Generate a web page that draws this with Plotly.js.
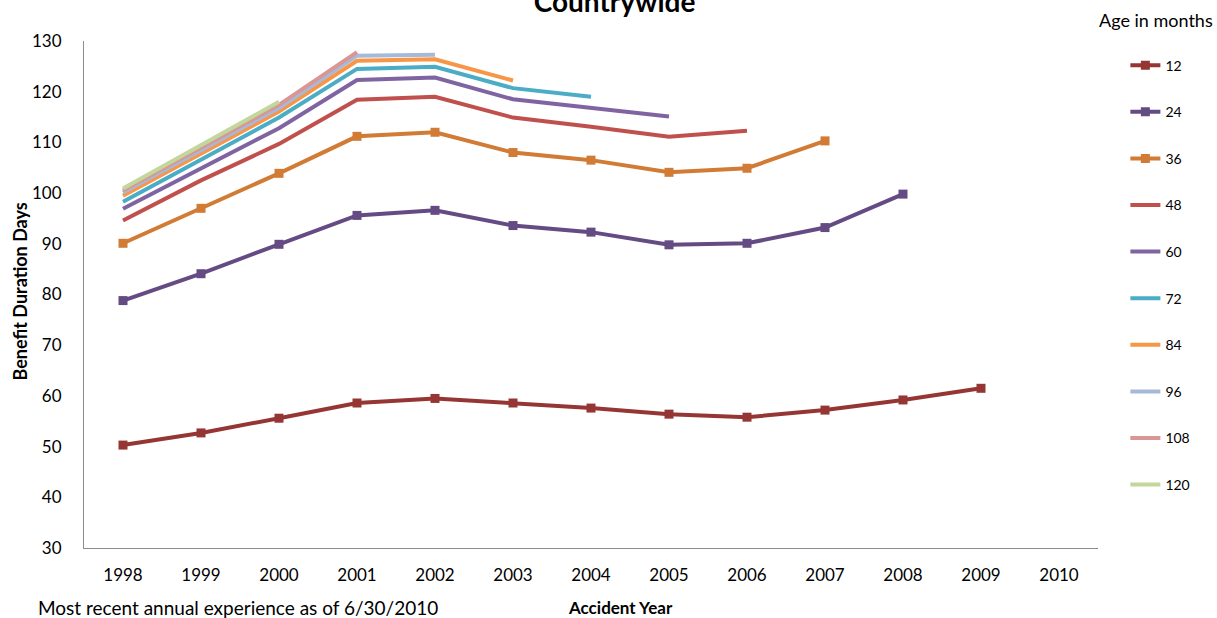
<!DOCTYPE html>
<html>
<head>
<meta charset="utf-8">
<script src="https://cdn.plot.ly/plotly-3.0.1.min.js"></script>
<style>
  html, body { margin: 0; padding: 0; background: #ffffff; }
  #chart { width: 1217px; height: 618px; }
</style>
</head>
<body>
<div id="chart"></div>
<script>
// Accident years shown on the x axis
const years = [1998, 1999, 2000, 2001, 2002, 2003, 2004, 2005, 2006, 2007, 2008, 2009, 2010];

// Average benefit duration (days) by accident year, one series per evaluation age
const age12  = [50.3, 52.7, 55.6, 58.6, 59.5, 58.6, 57.6, 56.4, 55.8, 57.2, 59.2, 61.5];
const age24  = [78.8, 84.1, 89.9, 95.6, 96.6, 93.6, 92.3, 89.8, 90.1, 93.2, 99.8];
const age36  = [90.1, 97.0, 103.9, 111.2, 112.0, 108.0, 106.5, 104.1, 104.9, 110.3];
const age48  = [94.6, 102.5, 109.7, 118.4, 119.0, 114.9, 113.1, 111.1, 112.3];
const age60  = [96.9, 104.8, 112.8, 122.3, 122.8, 118.5, 116.9, 115.1];
const age72  = [98.3, 106.6, 114.9, 124.5, 124.9, 120.7, 119.0];
const age84  = [99.5, 107.8, 116.1, 126.1, 126.4, 122.2];
const age96  = [100.1, 108.4, 116.8, 127.1, 127.3];
const age108 = [100.5, 108.9, 117.4, 127.8];
const age120 = [100.9, 109.5, 118.0];

const ageLabels = ['12', '24', '36', '48', '60', '72', '84', '96', '108', '120'];
const seriesValues = [age12, age24, age36, age48, age60, age72, age84, age96, age108, age120];
const seriesColors = ['#963634', '#654B83', '#D17B35', '#C0504D', '#8064A2',
                      '#4BACC6', '#F79646', '#A7B9D8', '#D99694', '#C3D69B'];
const withMarkers = [true, true, true, false, false, false, false, false, false, false];

const FONT = 'Lato, "Open Sans", "Liberation Sans", sans-serif';

const traces = seriesValues.map((vals, i) => ({
  type: 'scatter',
  mode: withMarkers[i] ? 'lines+markers' : 'lines',
  name: ageLabels[i],
  legendgroup: 'g' + ageLabels[i],
  x: years.slice(0, vals.length),
  y: vals,
  line: { color: seriesColors[i], width: 4 },
  marker: { symbol: 'square', size: 9, color: seriesColors[i] },
  hoverinfo: 'x+y+name'
}));

const layout = {
  width: 1217,
  height: 618,
  paper_bgcolor: '#ffffff',
  plot_bgcolor: '#ffffff',
  margin: { l: 84, r: 119, t: 41, b: 70, pad: 0 },
  font: { family: FONT, size: 16, color: '#000000' },
  title: {
    text: '<b>Countrywide</b>',
    font: { family: FONT, size: 28, color: '#000000' },
    xref: 'container', yref: 'container',
    x: 0.505, y: 0.997, xanchor: 'center', yanchor: 'middle'
  },
  xaxis: {
    range: [1997.5, 2010.5],
    tickmode: 'array',
    tickvals: years,
    ticktext: years.map(String),
    showgrid: false,
    zeroline: false,
    showline: true,
    linecolor: '#8c8c8c',
    linewidth: 1,
    ticks: '',
    ticklen: 0,
    tickfont: { family: FONT, size: 17 },
    ticklabelstandoff: 12,
    fixedrange: true
  },
  yaxis: {
    range: [30, 130],
    dtick: 10,
    tick0: 30,
    showgrid: false,
    zeroline: false,
    showline: true,
    linecolor: '#8c8c8c',
    linewidth: 1,
    ticks: '',
    tickfont: { family: FONT, size: 17 },
    ticklabelstandoff: 18,
    fixedrange: true
  },
  showlegend: true,
  legend: {
    x: 1.027, xanchor: 'left',
    y: 0.983, yanchor: 'top',
    traceorder: 'grouped',
    tracegroupgap: 25.4,
    font: { family: FONT, size: 14 },
    bgcolor: 'rgba(0,0,0,0)'
  },
  annotations: [
    {
      // legend heading
      text: 'Age in months',
      xref: 'paper', yref: 'paper',
      x: 0.999, y: 1.041, xanchor: 'left', yanchor: 'middle',
      showarrow: false,
      font: { family: FONT, size: 18 }
    },
    {
      // x axis title
      text: '<b>Accident Year</b>',
      xref: 'paper', yref: 'paper',
      x: 0.5286, y: -0.1164, xanchor: 'center', yanchor: 'middle',
      showarrow: false,
      font: { family: FONT, size: 17 }
    },
    {
      // y axis title
      text: '<b>Benefit Duration Days</b>',
      xref: 'paper', yref: 'paper',
      x: -0.0631, y: 0.506, xanchor: 'center', yanchor: 'middle',
      textangle: -90,
      showarrow: false,
      font: { family: FONT, size: 18 }
    },
    {
      text: 'Most recent annual experience as of 6/30/2010',
      xref: 'paper', yref: 'paper',
      x: -0.047, y: -0.117, xanchor: 'left', yanchor: 'middle',
      showarrow: false,
      font: { family: FONT, size: 19 }
    }
  ],
  hovermode: 'closest'
};

Plotly.newPlot('chart', traces, layout, { displayModeBar: false, staticPlot: false });
</script>
</body>
</html>
